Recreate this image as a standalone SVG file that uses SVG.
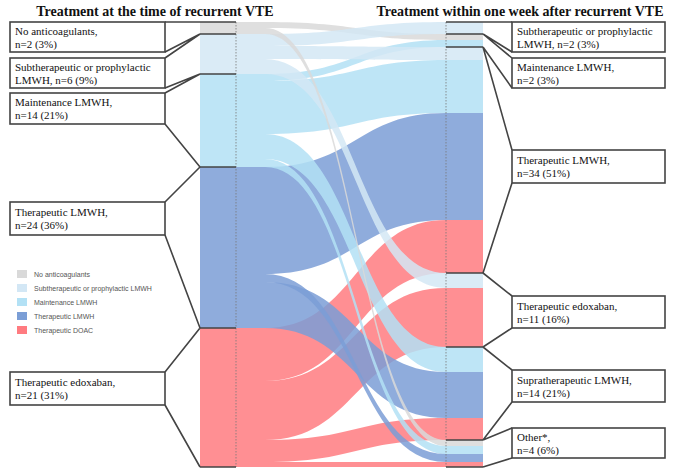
<svg xmlns="http://www.w3.org/2000/svg" width="676" height="474" viewBox="0 0 676 474">
<style>
.t{font-family:"Liberation Serif",serif;font-weight:bold;font-size:14px;fill:#111}
.l{font-family:"Liberation Serif",serif;font-size:11px;fill:#111}
.box{fill:#fff;stroke:#444;stroke-width:1.6}
.c{stroke:#444;stroke-width:1.6;fill:none}
.g{fill:#d9d9d9}.p{fill:#d3e7f5}.lb{fill:#b3e1f5}.b{fill:#7b9ed6}.r{fill:#ff7b80}
.f{opacity:0.85}
.lg{font-family:"Liberation Sans",sans-serif;font-size:7px;fill:#555}
</style>
<rect width="676" height="474" fill="#fff"/>
<text class="t" x="155" y="16" text-anchor="middle">Treatment at the time of recurrent VTE</text>
<text class="t" x="520" y="16" text-anchor="middle">Treatment within one week after recurrent VTE</text>
<g id="flows">
<path class="f g" d="M200 22H265C356 22 356 34 446 34H483V40H446C356 40 356 28 265 28H200Z"/>
<path class="f p" d="M200 34H265C356 34 356 22 446 22H483V34H446C356 34 356 46 265 46H200Z"/>
<path class="f lb" d="M200 74H265C356 74 356 40 446 40H483V47H446C356 47 356 81 265 81H200Z"/>
<path class="f p" d="M200 46H265C356 46 356 47 446 47H483V60H446C356 60 356 59 265 59H200Z"/>
<path class="f lb" d="M200 81H265C356 81 356 60 446 60H483V113H446C356 113 356 134 265 134H200Z"/>
<path class="f b" d="M200 167H265C356 167 356 113 446 113H483V220H446C356 220 356 274 265 274H200Z"/>
<path class="f r" d="M200 328H265C356 328 356 220 446 220H483V273H446C356 273 356 381 265 381H200Z"/>
<path class="f p" d="M200 59H265C356 59 356 273 446 273H483V288H446C356 288 356 74 265 74H200Z"/>
<path class="f r" d="M200 381H265C356 381 356 288 446 288H483V347H446C356 347 356 440 265 440H200Z"/>
<path class="f lb" d="M200 134H265C356 134 356 347 446 347H483V372H446C356 372 356 159 265 159H200Z"/>
<path class="f b" d="M200 282H265C356 282 356 372 446 372H483V418H446C356 418 356 328 265 328H200Z"/>
<path class="f r" d="M200 440H265C356 440 356 418 446 418H483V440H446C356 440 356 462 265 462H200Z"/>
<path class="f g" d="M200 28H265C356 28 356 440 446 440H483V446H446C356 446 356 34 265 34H200Z"/>
<path class="f lb" d="M200 159H265C356 159 356 446 446 446H483V454H446C356 454 356 167 265 167H200Z"/>
<path class="f b" d="M200 274H265C356 274 356 454 446 454H483V462H446C356 462 356 282 265 282H200Z"/>
<path class="f r" d="M200 462H265C356 462 356 462 446 462H483V467H446C356 467 356 467 265 467H200Z"/>
<line x1="236" y1="22" x2="236" y2="467" stroke="#777" stroke-width="0.8" stroke-dasharray="1.5,1.5"/>
<line x1="446" y1="22" x2="446" y2="467" stroke="#777" stroke-width="0.8" stroke-dasharray="1.5,1.5"/>
<path class="c" d="M200 22H236M200 34H236M200 74H236M200 167H236M200 328H236M200 467H236"/>
<path class="c" d="M446 22H483M446 34H483M446 47H483M446 273H483M446 347H483M446 440H483M446 467H483"/>
<path class="c" d="M165 22L200 22M165 52L200 34M165 58L200 34M165 88L200 74M165 93L200 74M165 124L200 167M165 202L200 167M165 235L200 328M165 372L200 328M165 405L200 467"/>
<path class="c" d="M483 22L512 22M483 34L512 52M483 34L512 58M483 47L512 88M483 47L512 150M483 273L512 183M483 273L512 296M483 347L512 328M483 347L512 370M483 440L512 402M483 440L512 428M483 467L512 458"/>
</g>
<g id="legend">
<rect x="17" y="270" width="10" height="8" fill="#d9d9d9"/><text class="lg" x="34" y="277">No anticoagulants</text>
<rect x="17" y="284" width="10" height="8" fill="#d3e7f5"/><text class="lg" x="34" y="291">Subtherapeutic or prophylactic LMWH</text>
<rect x="17" y="298" width="10" height="8" fill="#b3e1f5"/><text class="lg" x="34" y="305">Maintenance LMWH</text>
<rect x="17" y="312" width="10" height="8" fill="#7b9ed6"/><text class="lg" x="34" y="319">Therapeutic LMWH</text>
<rect x="17" y="326" width="10" height="8" fill="#ff7b80"/><text class="lg" x="34" y="333">Therapeutic DOAC</text>
</g>
<g id="L1"><rect class="box" x="10" y="22" width="155" height="30"/><text class="l" x="15" y="35">No anticoagulants,</text><text class="l" x="15" y="48">n=2 (3%)</text></g>
<g id="L2"><rect class="box" x="10" y="58" width="155" height="30"/><text class="l" x="15" y="71">Subtherapeutic or prophylactic</text><text class="l" x="15" y="84">LMWH, n=6 (9%)</text></g>
<g id="L3"><rect class="box" x="10" y="93" width="155" height="31"/><text class="l" x="15" y="106">Maintenance LMWH,</text><text class="l" x="15" y="119">n=14 (21%)</text></g>
<g id="L4"><rect class="box" x="10" y="202" width="155" height="33"/><text class="l" x="15" y="216">Therapeutic LMWH,</text><text class="l" x="15" y="229">n=24 (36%)</text></g>
<g id="L5"><rect class="box" x="10" y="372" width="155" height="33"/><text class="l" x="15" y="386">Therapeutic edoxaban,</text><text class="l" x="15" y="399">n=21 (31%)</text></g>
<g id="R1"><rect class="box" x="512" y="22" width="153" height="30"/><text class="l" x="517" y="35">Subtherapeutic or prophylactic</text><text class="l" x="517" y="48">LMWH, n=2 (3%)</text></g>
<g id="R2"><rect class="box" x="512" y="58" width="153" height="30"/><text class="l" x="517" y="71">Maintenance LMWH,</text><text class="l" x="517" y="84">n=2 (3%)</text></g>
<g id="R3"><rect class="box" x="512" y="150" width="153" height="33"/><text class="l" x="517" y="164">Therapeutic LMWH,</text><text class="l" x="517" y="177">n=34 (51%)</text></g>
<g id="R4"><rect class="box" x="512" y="296" width="153" height="32"/><text class="l" x="517" y="310">Therapeutic edoxaban,</text><text class="l" x="517" y="323">n=11 (16%)</text></g>
<g id="R5"><rect class="box" x="512" y="370" width="153" height="32"/><text class="l" x="517" y="384">Supratherapeutic LMWH,</text><text class="l" x="517" y="397">n=14 (21%)</text></g>
<g id="R6"><rect class="box" x="512" y="428" width="153" height="30"/><text class="l" x="517" y="441">Other*,</text><text class="l" x="517" y="454">n=4 (6%)</text></g>
</svg>
